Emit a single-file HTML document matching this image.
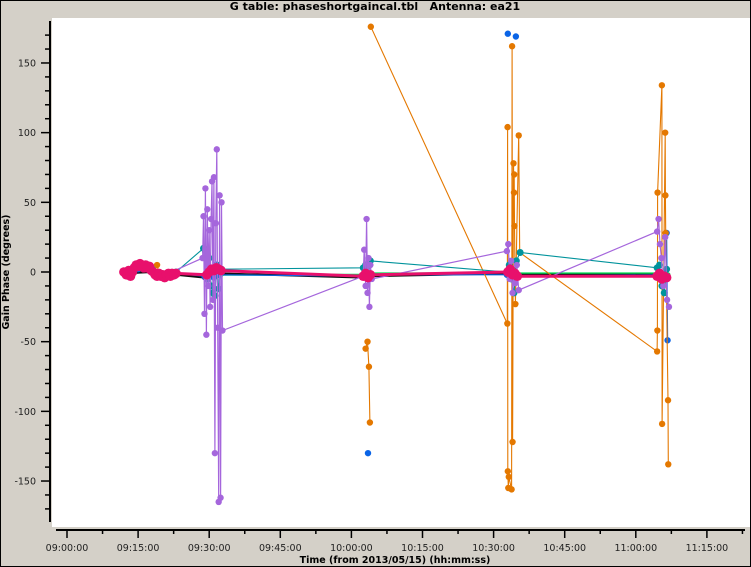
<!DOCTYPE html>
<html><head><meta charset="utf-8">
<style>
html,body{margin:0;padding:0;background:#d4d0c8;}
#wrap{position:relative;width:751px;height:567px;overflow:hidden;font-family:"Liberation Sans","DejaVu Sans",sans-serif;}
svg text{font-family:"DejaVu Sans","Liberation Sans",sans-serif;white-space:pre;}
</style></head>
<body>
<div id="wrap">
<svg id="chart" width="751" height="567">
  <rect x="0.5" y="0.5" width="750" height="566" fill="#d4d0c8" stroke="#000"/>
  <text x="375" y="10" text-anchor="middle" font-size="11" font-weight="bold" fill="#000" xml:space="preserve">G table: phaseshortgaincal.tbl   Antenna: ea21</text>
  <rect x="52" y="18" width="698" height="509" fill="#fff"/>
  <g id="axes"></g>
  <g id="series"></g>
  <text x="395" y="563" text-anchor="middle" font-size="9.5" font-weight="bold">Time (from 2013/05/15) (hh:mm:ss)</text>
  <text transform="translate(9,272) rotate(-90)" text-anchor="middle" font-size="9.5" font-weight="bold">Gain Phase (degrees)</text>
</svg>
</div>
<script>
// ---- data (time in minutes after 09:00, phase in degrees) ----
const xTickLabels = ["09:00:00","09:15:00","09:30:00","09:45:00","10:00:00","10:15:00","10:30:00","10:45:00","11:00:00","11:15:00"];
const xTickMinutes = [0,15,30,45,60,75,90,105,120,135];
const yTickValues = [150,100,50,0,-50,-100,-150];

const pinkTimes = [12,12.5,13,13.4,13.8,14.2,14.6,15,15.4,15.8,16.2,16.6,17,17.4,17.8,18.2,18.6,19,19.4,19.8,20.2,20.6,21,21.4,21.8,22.2,22.6,23,29.5,30,30.5,31,31.5,32,32.5,62.5,63,63.5,64,93,93.5,94,94.5,95,124.5,125,125.5,126,126.5];
const pinkPhase = [0,-2,1,-3,0,3,5,4,6,4,3,5,3,4,1,0,-2,-3,-1,-3,-2,-4,-2,-1,-3,-1,-2,-1,-2,0,2,1,3,2,1,-3,-1,-4,-2,0,2,-2,-1,-3,-3,-1,-5,-3,-4];

const purpleTimes = [12,14,16,18,20,22,28.6,28.8,29,29.2,29.4,29.6,29.8,30,30.2,30.4,30.6,30.8,31,31.2,31.4,31.6,31.8,32,32.2,32.4,32.6,32.8,62.5,62.7,63,63.2,63.4,63.6,63.8,64,64.3,92.8,93.1,93.4,93.7,94,94.3,94.6,94.9,95.3,124.5,124.8,125.1,125.4,125.8,126.2,126.6,127];
const purplePhase = [1,2,4,1,-2,0,10,40,-30,60,-45,45,-10,30,-25,38,65,-20,68,-130,35,88,-40,-165,55,-162,50,-42,-3,16,-10,38,-15,10,-25,5,-5,15,20,-5,8,-15,0,-8,5,-13,29,38,20,10,-10,25,-20,-25];

const orangeTimes = [19,19.5,20.5,null,63.0,63.4,63.7,63.9,null,64.1,92.9,92.95,93.0,93.1,93.2,93.8,93.9,94.0,94.2,94.3,94.35,94.4,94.6,95.3,95.5,124.5,124.55,124.6,125.5,125.55,126.2,126.25,126.3,126.8,126.85];
const orangePhase = [5,-3,-2,null,-55,-50,-68,-108,null,176,-37,104,-143,-155,-147,-156,162,-122,78,57,70,33,-23,98,14,-57,-42,57,134,-109,100,55,28,-92,-138];

const blueTimes = [12,15,18,21,23,29,30,31,32,62.8,63.6,92.8,94,95,125,126,null,63.5,null,93,null,94.7,null,126.5,126.7];
const bluePhase = [0,2,1,-2,-1,-3,0,-4,-2,-3,-2,-2,-1,-3,-2,-3,null,-130,null,171,null,169,null,28,-49];

const tealTimes = [12,15,18,21,23,28.8,29.2,29.6,30,30.4,30.8,31.2,31.6,32,32.6,62.5,63,63.5,64,92.8,93.3,93.8,94.3,94.8,95.6,124.5,125,125.5,126,126.5];
const tealPhase = [0,3,2,-2,0,17,15,-5,10,-10,-15,-17,5,-12,2,3,5,-3,8,0,5,-5,-15,8,14,3,5,-10,-15,2];

const blackTimes = [12,18,23,29,32,62.5,64,93,95,124.5,126.8];
const blackPhase = [-1,0,-2,-4,-1,-4,-3,-1,-2,-2,-3];

const greenTimes = [12,18,23,29.5,32.5,62.5,64,93,95,124.5,126.8];
const greenPhase = [0,1,-1,-3,-2,-2,-1,-1,-1,-1,-2];

// ---- scales ----
const X0 = 67, PXMIN = 71.1/15;
const Y0 = 272, PXDEG = 1.3935;
const xs = t => X0 + t*PXMIN;
const ys = v => Y0 - v*PXDEG;
const NS = "http://www.w3.org/2000/svg";
const axes = document.getElementById('axes');
const sg = document.getElementById('series');

function mk(tag, attrs, parent){
  const e = document.createElementNS(NS, tag);
  for (const k in attrs) e.setAttribute(k, attrs[k]);
  parent.appendChild(e);
  return e;
}

const yl = mk('line',{x1:50,y1:21,x2:50,y2:522,stroke:'#000','stroke-width':2},axes);


for (let v=-170; v<=170; v+=10){
  const major = v%50===0;
  const tk = mk('line',{x1:major?41:45,x2:50,y1:ys(v),y2:ys(v),stroke:'#000','stroke-width':1.5},axes);
  
  
}
yTickValues.forEach(v=>{
  const t = mk('text',{x:36,y:ys(v)+3.5,'text-anchor':'end','font-size':'9.5',fill:'#222'},axes);
  t.textContent = String(v);
  
  
});
const xl = mk('line',{x1:56,y1:530,x2:745,y2:530,stroke:'#000','stroke-width':2},axes);


for (let m=-7.5; m<=142.5; m+=7.5){
  const x = xs(m);
  if (x<56||x>745) continue;
  const major = Math.abs(m%15)<0.01;
  const tk = mk('line',{x1:x,x2:x,y1:530,y2:major?538:534,stroke:'#000','stroke-width':1.5},axes);
  
  
}
xTickMinutes.forEach((m,i)=>{
  const t = mk('text',{x:xs(m),y:551,'text-anchor':'middle','font-size':'9.5',fill:'#222'},axes);
  t.textContent = xTickLabels[i];
  
  
});

function drawSeries(name, times, phase, color, lw, r){
  const g = mk('g',{},sg);
  
  
  let d = '', pen = false;
  for (let i=0;i<times.length;i++){
    if (times[i]===null || phase[i]===null){ pen=false; continue; }
    d += (pen?'L':'M') + xs(times[i]).toFixed(1) + ' ' + ys(phase[i]).toFixed(1) + ' ';
    pen = true;
  }
  const p = mk('path',{d:d,fill:'none',stroke:color,'stroke-width':lw},g);
  
  
  for (let i=0;i<times.length;i++){
    if (times[i]===null || phase[i]===null) continue;
    const c = mk('circle',{cx:xs(times[i]),cy:ys(phase[i]),r:r,fill:color},g);
    
    
  }
}
drawSeries('green', greenTimes, greenPhase, '#00dd55', 2, 2.5);
drawSeries('black', blackTimes, blackPhase, '#111111', 2, 2.5);
drawSeries('blue', blueTimes, bluePhase, '#0a64e6', 1.2, 3.2);
drawSeries('orange', orangeTimes, orangePhase, '#e47800', 1.1, 3.2);
drawSeries('teal', tealTimes, tealPhase, '#00939c', 1.1, 3.5);
drawSeries('purple', purpleTimes, purplePhase, '#a566dc', 1.2, 3.2);
drawSeries('pink', pinkTimes, pinkPhase, '#e8106c', 3, 4.8);
</script>
</body></html>
